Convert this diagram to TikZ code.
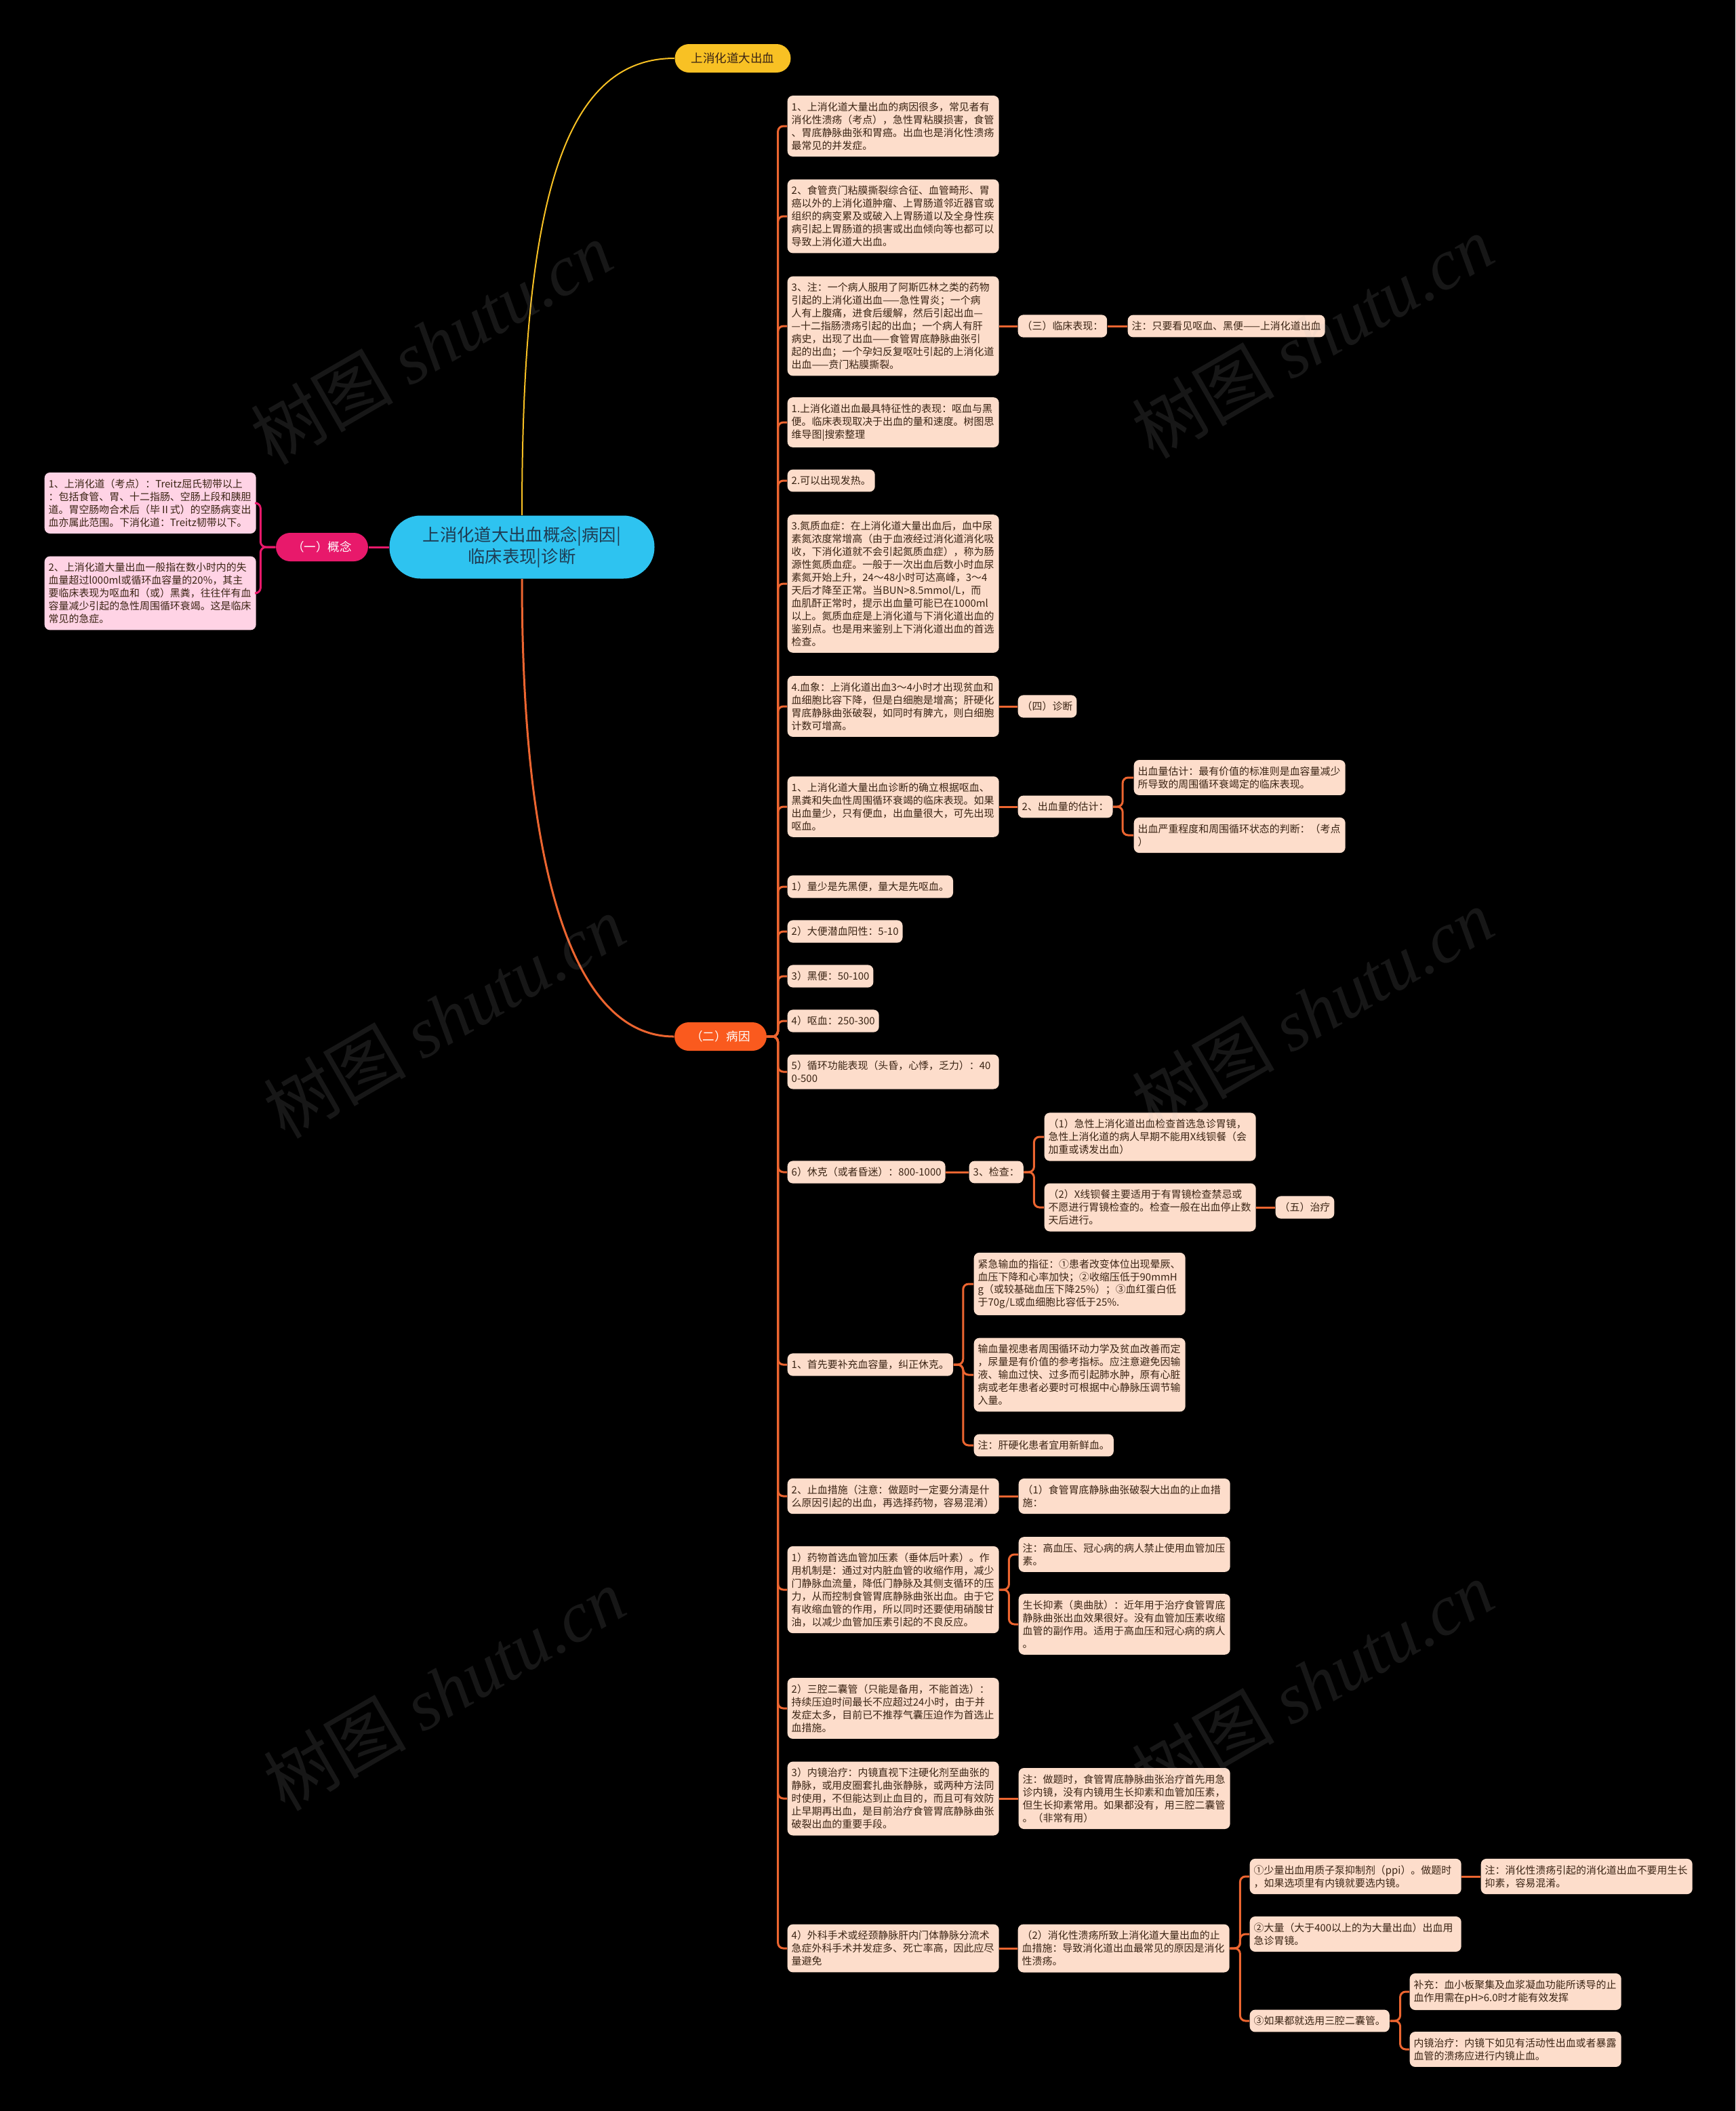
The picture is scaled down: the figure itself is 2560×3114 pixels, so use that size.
\documentclass[tikz,border=0pt]{standalone}
\usepackage{fontspec}
\setmainfont{Noto Sans CJK SC}
\newfontfamily\markfont{Liberation Serif}
\definecolor{night}{HTML}{000000}
\definecolor{peach}{HTML}{FDDDCB}
\definecolor{blush}{HTML}{FFD3E5}
\definecolor{ember}{HTML}{EC6530}
\definecolor{rose}{HTML}{E8196B}
\definecolor{amber}{HTML}{F8C124}
\definecolor{sky}{HTML}{2EC3F0}
\definecolor{cocoa}{HTML}{3A2414}
\definecolor{navy}{HTML}{1E3B52}
\definecolor{flame}{HTML}{FA5A1E}
\tikzset{
  box/.style={fill=peach,text=cocoa,rounded corners=0.8mm,inner xsep=0.6mm,inner ysep=0.95mm,
    anchor=west,align=left,font=\fontsize{4.25pt}{5.4pt}\selectfont},
  widebox/.style={box,text width=30mm},
  pinkbox/.style={widebox,fill=blush},
  rootnode/.style={fill=sky,text=navy,rounded corners=4.6mm,minimum width=39.1mm,minimum height=9.3mm,
    align=center,font=\fontsize{7.2pt}{9.1pt}\selectfont},
  mainnode/.style={rounded corners=2.1mm,inner xsep=2.4mm,minimum height=4.2mm,
    font=\fontsize{5pt}{6pt}\selectfont},
  link/.style={draw=ember,line width=0.3mm,rounded corners=0.8mm},
  pinklink/.style={draw=rose,line width=0.3mm,rounded corners=0.8mm},
  watermark/.style={rotate=30,text=gray!50,text opacity=0.12,font=\fontsize{30pt}{30pt}\selectfont},
}
\begin{document}
\begin{tikzpicture}[x=0.1mm,y=-0.1mm]
  \useasboundingbox (0,0) rectangle (2560,3114);
  \fill[night] (0,0) rectangle (2560,3114);

  % Centre and first-level topics.
  \node[rootnode] (root) at (770,807) {上消化道大出血概念|病因|\\临床表现|诊断};
  \node[mainnode,fill=amber,text=cocoa] (top) at (1081,86) {上消化道大出血};
  \node[mainnode,fill=rose,text=white] (gn) at (475,807) {（一）概念};
  \node[mainnode,fill=flame,text=white] (by) at (1063,1529) {（二）病因};
  \draw[amber,line width=0.2mm] (root.north) .. controls (770,300) and (830,86) .. (top.west);
  \draw[ember,line width=0.3mm] (root.south) .. controls (770,1300) and (850,1529) .. (by.west);
  \draw[pinklink] (root.west) -- (gn.east);

  % (一) concept, on the left.
  \node[pinkbox] (l1) at (65,742)
    {1、上消化道（考点）：Treitz屈氏韧带以上\\：包括食管、胃、十二指肠、空肠上段和胰胆\\道。胃空肠吻合术后（毕Ⅱ式）的空肠病变出\\血亦属此范围。下消化道：Treitz韧带以下。};
  \node[pinkbox] (l2) at (65,875)
    {2、上消化道大量出血一般指在数小时内的失\\血量超过l000ml或循环血容量的20\%，其主\\要临床表现为呕血和（或）黑粪，往往伴有血\\容量减少引起的急性周围循环衰竭。这是临床\\常见的急症。};
  \foreach \kid in {l1,l2}
    \draw[pinklink] (gn.west) -- ++(-22,0) |- (\kid.east);

  % (二) causes: the long column.
  \node[widebox] (b1) at (1161,186)
    {1、上消化道大量出血的病因很多，常见者有\\消化性溃疡（考点），急性胃粘膜损害，食管\\、胃底静脉曲张和胃癌。出血也是消化性溃疡\\最常见的并发症。};
  \node[widebox] (b2) at (1161,319)
    {2、食管贲门粘膜撕裂综合征、血管畸形、胃\\癌以外的上消化道肿瘤、上胃肠道邻近器官或\\组织的病变累及或破入上胃肠道以及全身性疾\\病引起上胃肠道的损害或出血倾向等也都可以\\导致上消化道大出血。};
  \node[widebox] (b3) at (1161,481)
    {3、注：一个病人服用了阿斯匹林之类的药物\\引起的上消化道出血——急性胃炎；一个病\\人有上腹痛，进食后缓解，然后引起出血—\\—十二指肠溃疡引起的出血；一个病人有肝\\病史，出现了出血——食管胃底静脉曲张引\\起的出血；一个孕妇反复呕吐引起的上消化道\\出血——贲门粘膜撕裂。};
  \node[box] (san) at (1501,481) {（三）临床表现：};
  \node[box] (zhu1) at (1663,481) {注：只要看见呕血、黑便——上消化道出血};
  \node[widebox] (b4) at (1161,623)
    {1.上消化道出血最具特征性的表现：呕血与黑\\便。临床表现取决于出血的量和速度。树图思\\维导图|搜索整理};
  \node[box] (b5) at (1161,709) {2.可以出现发热。};
  \node[widebox] (b6) at (1161,861)
    {3.氮质血症：在上消化道大量出血后，血中尿\\素氮浓度常增高（由于血液经过消化道消化吸\\收，下消化道就不会引起氮质血症），称为肠\\源性氮质血症。一般于一次出血后数小时血尿\\素氮开始上升，24～48小时可达高峰，3～4\\天后才降至正常。当BUN>8.5mmol/L，而\\血肌酐正常时，提示出血量可能已在1000ml\\以上。氮质血症是上消化道与下消化道出血的\\鉴别点。也是用来鉴别上下消化道出血的首选\\检查。};
  \node[widebox] (b7) at (1161,1042)
    {4.血象：上消化道出血3～4小时才出现贫血和\\血细胞比容下降，但是白细胞是增高；肝硬化\\胃底静脉曲张破裂，如同时有脾亢，则白细胞\\计数可增高。};
  \node[box] (si) at (1501,1042) {（四）诊断};
  \node[widebox] (b8) at (1161,1190)
    {1、上消化道大量出血诊断的确立根据呕血、\\黑粪和失血性周围循环衰竭的临床表现。如果\\出血量少，只有便血，出血量很大，可先出现\\呕血。};
  \node[box] (gu) at (1501,1190) {2、出血量的估计：};
  \node[widebox] (g1) at (1672,1147)
    {出血量估计：最有价值的标准则是血容量减少\\所导致的周围循环衰竭定的临床表现。};
  \node[widebox] (g2) at (1672,1232) {出血严重程度和周围循环状态的判断：（考点\\）};

  \node[box] (c1) at (1161,1308) {1）量少是先黑便，量大是先呕血。};
  \node[box] (c2) at (1161,1374) {2）大便潜血阳性：5-10};
  \node[box] (c3) at (1161,1440) {3）黑便：50-100};
  \node[box] (c4) at (1161,1506) {4）呕血：250-300};
  \node[widebox] (c5) at (1161,1581) {5）循环功能表现（头昏，心悸，乏力）：40\\0-500};
  \node[box] (c6) at (1161,1729) {6）休克（或者昏迷）：800-1000};
  \node[box] (jc) at (1429,1729) {3、检查：};
  \node[widebox] (j1) at (1540,1677)
    {（1）急性上消化道出血检查首选急诊胃镜，\\急性上消化道的病人早期不能用X线钡餐（会\\加重或诱发出血）};
  \node[widebox] (j2) at (1540,1781)
    {（2）X线钡餐主要适用于有胃镜检查禁忌或\\不愿进行胃镜检查的。检查一般在出血停止数\\天后进行。};
  \node[box] (zl) at (1881,1781) {（五）治疗};

  % Treatment branch.
  \node[box] (d1) at (1161,2013) {1、首先要补充血容量，纠正休克。};
  \node[widebox] (e1) at (1436,1894)
    {紧急输血的指征：①患者改变体位出现晕厥、\\血压下降和心率加快；②收缩压低于90mmH\\g（或较基础血压下降25\%）；③血红蛋白低\\于70g/L或血细胞比容低于25\%.};
  \node[widebox] (e2) at (1436,2028)
    {输血量视患者周围循环动力学及贫血改善而定\\，尿量是有价值的参考指标。应注意避免因输\\液、输血过快、过多而引起肺水肿，原有心脏\\病或老年患者必要时可根据中心静脉压调节输\\入量。};
  \node[box] (e3) at (1436,2132) {注：肝硬化患者宜用新鲜血。};
  \node[widebox] (d2) at (1161,2207)
    {2、止血措施（注意：做题时一定要分清是什\\么原因引起的出血，再选择药物，容易混淆）};
  \node[widebox] (f1) at (1502,2207) {（1）食管胃底静脉曲张破裂大出血的止血措\\施：};
  \node[widebox] (d3) at (1161,2345)
    {1）药物首选血管加压素（垂体后叶素）。作\\用机制是：通过对内脏血管的收缩作用，减少\\门静脉血流量，降低门静脉及其侧支循环的压\\力，从而控制食管胃底静脉曲张出血。由于它\\有收缩血管的作用，所以同时还要使用硝酸甘\\油，以减少血管加压素引起的不良反应。};
  \node[widebox] (f2) at (1502,2293) {注：高血压、冠心病的病人禁止使用血管加压\\素。};
  \node[widebox] (f3) at (1502,2396)
    {生长抑素（奥曲肽）：近年用于治疗食管胃底\\静脉曲张出血效果很好。没有血管加压素收缩\\血管的副作用。适用于高血压和冠心病的病人\\。};
  \node[widebox] (d4) at (1161,2520)
    {2）三腔二囊管（只能是备用，不能首选）：\\持续压迫时间最长不应超过24小时，由于并\\发症太多，目前已不推荐气囊压迫作为首选止\\血措施。};
  \node[widebox] (d5) at (1161,2653)
    {3）内镜治疗：内镜直视下注硬化剂至曲张的\\静脉，或用皮圈套扎曲张静脉，或两种方法同\\时使用，不但能达到止血目的，而且可有效防\\止早期再出血，是目前治疗食管胃底静脉曲张\\破裂出血的重要手段。};
  \node[widebox] (f4) at (1502,2653)
    {注：做题时，食管胃底静脉曲张治疗首先用急\\诊内镜，没有内镜用生长抑素和血管加压素，\\但生长抑素常用。如果都没有，用三腔二囊管\\。（非常有用）};
  \node[widebox] (d6) at (1161,2874)
    {4）外科手术或经颈静脉肝内门体静脉分流术\\急症外科手术并发症多、死亡率高，因此应尽\\量避免};
  \node[widebox] (h) at (1501,2874)
    {（2）消化性溃疡所致上消化道大量出血的止\\血措施：导致消化道出血最常见的原因是消化\\性溃疡。};
  \node[widebox] (k1) at (1843,2768)
    {①少量出血用质子泵抑制剂（ppi）。做题时\\，如果选项里有内镜就要选内镜。};
  \node[widebox] (k1n) at (2184,2768)
    {注：消化性溃疡引起的消化道出血不要用生长\\抑素，容易混淆。};
  \node[widebox] (k2) at (1843,2853) {②大量（大于400以上的为大量出血）出血用\\急诊胃镜。};
  \node[box] (k3) at (1843,2981) {③如果都就选用三腔二囊管。};
  \node[widebox] (m1) at (2079,2938)
    {补充：血小板聚集及血浆凝血功能所诱导的止\\血作用需在pH>6.0时才能有效发挥};
  \node[widebox] (m2) at (2079,3023)
    {内镜治疗：内镜下如见有活动性出血或者暴露\\血管的溃疡应进行内镜止血。};

  % Connectors.
  \foreach \kid in {b1,b2,b3,b4,b5,b6,b7,b8,c1,c2,c3,c4,c5,c6,d1,d2,d3,d4,d5,d6}
    \draw[link] (by.east) -- ++(16,0) |- (\kid.west);
  \foreach \a/\b in {b3/san,san/zhu1,b7/si,b8/gu,c6/jc,j2/zl,d2/f1,d5/f4,d6/h,k1/k1n}
    \draw[link] (\a.east) -- (\b.west);
  \foreach \kid in {g1,g2} \draw[link] (gu.east) -- ++(14,0) |- (\kid.west);
  \foreach \kid in {j1,j2} \draw[link] (jc.east) -- ++(15,0) |- (\kid.west);
  \foreach \kid in {e1,e2,e3} \draw[link] (d1.east) -- ++(14,0) |- (\kid.west);
  \foreach \kid in {f2,f3} \draw[link] (d3.east) -- ++(14,0) |- (\kid.west);
  \foreach \kid in {k1,k2,k3} \draw[link] (h.east) -- ++(15,0) |- (\kid.west);
  \foreach \kid in {m1,m2} \draw[link] (k3.east) -- ++(15,0) |- (\kid.west);

  % Watermarks (faint).
  \foreach \x/\y [count=\i] in {636/506,1936/497,655/1500,1936/1490,655/2492,1936/2482}
    \node[watermark] (wm\i) at (\x,\y) {树图 {\markfont\itshape shutu.cn}};
\end{tikzpicture}
\end{document}
